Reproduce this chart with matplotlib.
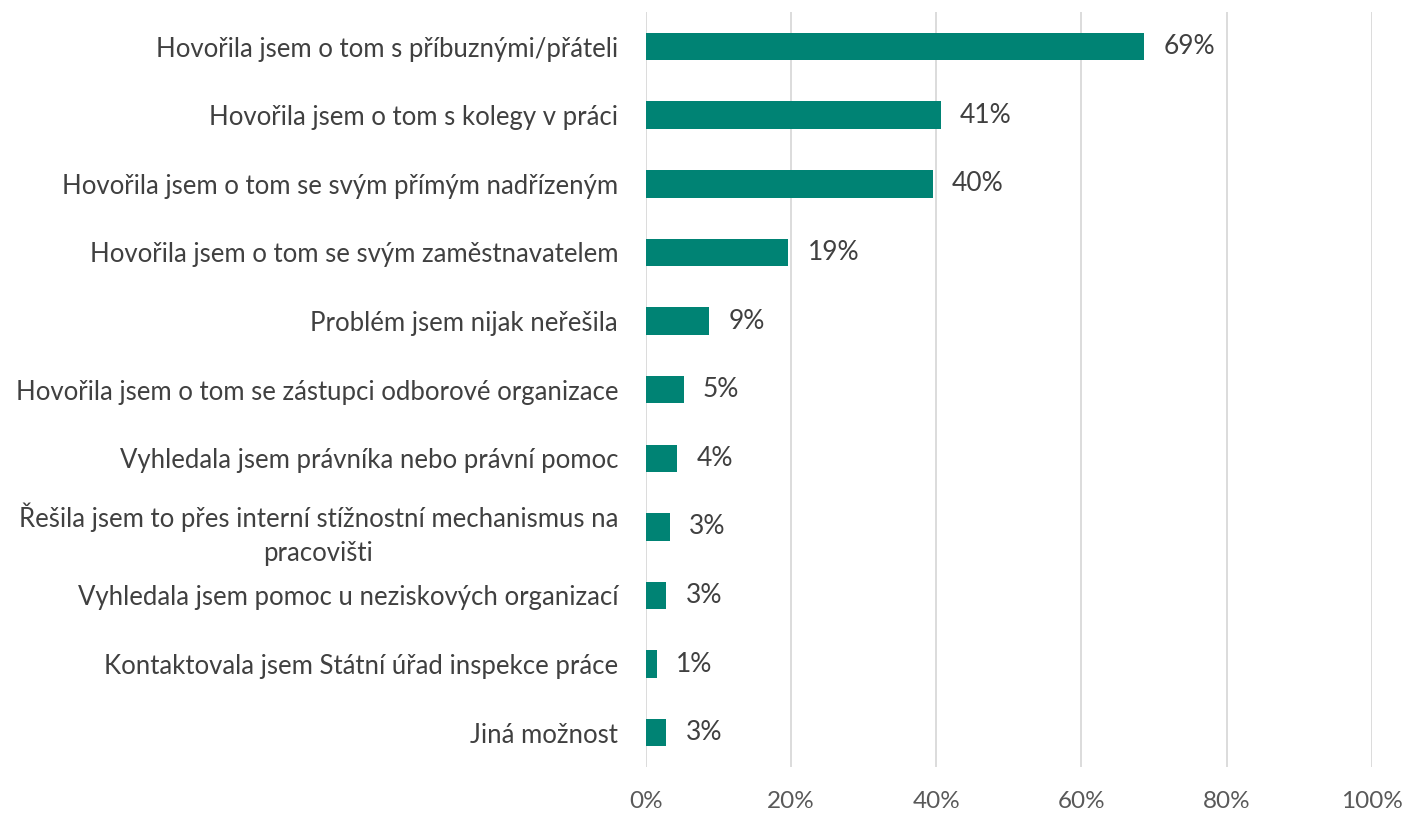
import numpy as np
import matplotlib.pyplot as plt
from matplotlib.ticker import PercentFormatter

categories = [
    'Hovořila jsem o tom s příbuznými/přáteli',
    'Hovořila jsem o tom s kolegy v práci',
    'Hovořila jsem o tom se svým přímým nadřízeným',
    'Hovořila jsem o tom se svým zaměstnavatelem',
    'Problém jsem nijak neřešila',
    'Hovořila jsem o tom se zástupci odborové organizace',
    'Vyhledala jsem právníka nebo právní pomoc',
    'Řešila jsem to přes interní stížnostní mechanismus na\npracovišti',
    'Vyhledala jsem pomoc u neziskových organizací',
    'Kontaktovala jsem Státní úřad inspekce práce',
    'Jiná možnost',
]
values = [68.6, 40.6, 39.5, 19.6, 8.7, 5.2, 4.3, 3.3, 2.8, 1.5, 2.8]
labels = ['69%', '41%', '40%', '19%', '9%', '5%', '4%', '3%', '3%', '1%', '3%']
xticks = [0, 20, 40, 60, 80, 100]

plt.rcParams['font.family'] = ['Lato', 'DejaVu Sans']

fig = plt.figure(figsize=(14.07, 8.16), dpi=100)
ax = fig.add_axes([0.459, 0.06, 0.516, 0.925])

y = np.arange(len(categories))
ax.barh(y, values, height=0.4, color='#008374', zorder=3)

for yi, v, lab in zip(y, values, labels):
    ax.annotate(lab, (v, yi), xytext=(14, 0), textcoords='offset points',
                ha='left', va='center', fontsize=19, color='#404040')

ax.set_ylim(len(categories) - 0.5, -0.5)
ax.set_xlim(0, 100)
ax.set_xticks(xticks)
ax.xaxis.set_major_formatter(PercentFormatter(decimals=0))
ax.set_yticks(y)
ax.set_yticklabels(categories, multialignment='center', linespacing=1.45)

ax.grid(axis='x', color='#d9d9d9', linewidth=1.3, zorder=0)
for s in ax.spines.values():
    s.set_visible(False)
ax.tick_params(axis='both', length=0, colors='#404040')
ax.tick_params(axis='y', pad=20, labelsize=18.5)
ax.tick_params(axis='x', pad=17, labelsize=17.5, colors='#595959')

fig.savefig('out.png', dpi=100)
